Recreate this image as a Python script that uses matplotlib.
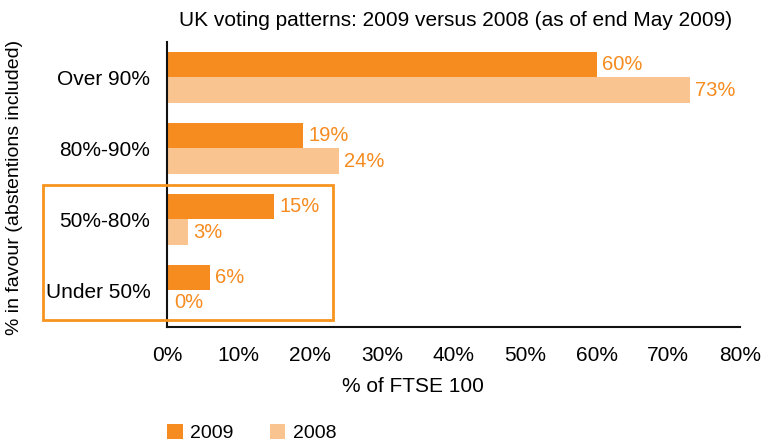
import matplotlib
matplotlib.use("Agg")
import matplotlib.pyplot as plt
from matplotlib.patches import Rectangle
import numpy as np

plt.rcParams['font.family'] = ['Liberation Sans', 'DejaVu Sans']

categories = ["Over 90%", "80%-90%", "50%-80%", "Under 50%"]
values_2009 = [60, 19, 15, 6]
values_2008 = [73, 24, 3, 0]
series_names = ["2009", "2008"]
x_ticks = [0, 10, 20, 30, 40, 50, 60, 70, 80]

c2009 = "#F68B1F"
c2008 = "#FAC491"
label_color = "#F68B1F"

fig = plt.figure(figsize=(7.65, 4.41), dpi=100)
ax = fig.add_axes([167/765, 1-327/441, (740-167)/765, (327-42)/441])

y = np.arange(len(categories))
h = 0.36
b1 = ax.barh(y - h/2, values_2009, height=h, color=c2009, label=series_names[0])
b2 = ax.barh(y + h/2, values_2008, height=h, color=c2008, label=series_names[1])

for bars, vals in ((b1, values_2009), (b2, values_2008)):
    for bar, v in zip(bars, vals):
        ax.text(v + 0.7 if v > 0 else 1.0, bar.get_y() + bar.get_height()/2, f"{v}%",
                va="center", ha="left", color=label_color, fontsize=14.5)

ax.set_ylim(3.52, -0.5)
ax.set_xlim(0, 80)
ax.set_yticks(y)
ax.set_yticklabels(categories, fontsize=15)
ax.set_xticks(x_ticks)
ax.set_xticklabels([f"{t}%" for t in x_ticks], fontsize=15)
ax.tick_params(axis="both", length=0)
ax.tick_params(axis="y", pad=12)
ax.tick_params(axis="x", pad=14)
for s in ("top", "right"):
    ax.spines[s].set_visible(False)
for s in ("left", "bottom"):
    ax.spines[s].set_linewidth(1.5)
    ax.spines[s].set_color("#111111")

fig.text(456/765, 1-20/441, "UK voting patterns: 2009 versus 2008 (as of end May 2009)",
         ha="center", va="center", fontsize=15)
fig.text(413/765, 1-386/441, "% of FTSE 100", ha="center", va="center", fontsize=15)
fig.text(15/765, 1-187/441, "% in favour (abstentions included)", ha="center", va="center",
         rotation=90, fontsize=14)

# highlight box around the lower two bands
fig.patches.append(Rectangle((43/765, 1-320/441), (333-43)/765, (320-185)/441,
                             transform=fig.transFigure, fill=False,
                             edgecolor="#F7941E", linewidth=2, zorder=5))

fig.legend(handles=[b1, b2], labels=series_names, loc="center left",
           bbox_to_anchor=(167/765, 1-433/441), ncol=2, frameon=False,
           fontsize=14, handlelength=0.8, handleheight=0.8, columnspacing=1.85,
           handletextpad=0.4, borderpad=0.0, borderaxespad=0.0)

fig.savefig("out.png", dpi=100)
